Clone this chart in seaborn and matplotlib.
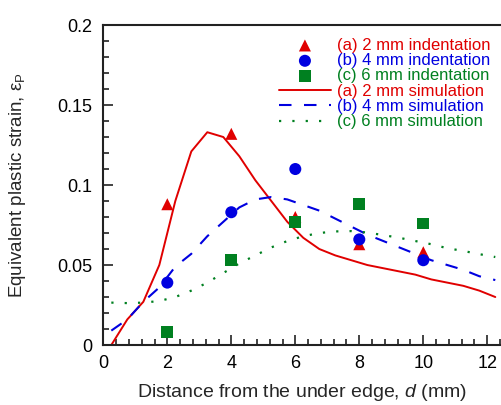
import numpy as np
import pandas as pd
import matplotlib
matplotlib.use("Agg")
import matplotlib.pyplot as plt
import seaborn as sns
from matplotlib.ticker import MultipleLocator

# ---------- data ----------
d_exp = [2, 4, 6, 8, 10]
exp_2mm = [0.088, 0.132, 0.080, 0.063, 0.058]
exp_4mm = [0.039, 0.083, 0.110, 0.066, 0.053]
exp_6mm = [0.008, 0.053, 0.077, 0.088, 0.076]

d_sim = [0.25, 0.75, 1.25, 1.75, 2.25, 2.75, 3.25, 3.75, 4.25, 4.75, 5.25, 5.75,
         6.25, 6.75, 7.25, 7.75, 8.25, 8.75, 9.25, 9.75, 10.25, 10.75, 11.25, 11.75, 12.25]
sim_2mm = [0.000, 0.016, 0.027, 0.050, 0.090, 0.121, 0.133, 0.130, 0.118, 0.103, 0.090, 0.077,
           0.067, 0.060, 0.056, 0.053, 0.050, 0.048, 0.046, 0.044, 0.041, 0.039, 0.037, 0.034, 0.030]
sim_4mm = [0.009, 0.016, 0.027, 0.036, 0.049, 0.057, 0.068, 0.077, 0.086, 0.091, 0.0925, 0.091,
           0.0875, 0.084, 0.079, 0.074, 0.069, 0.065, 0.061, 0.057, 0.053, 0.050, 0.047, 0.043, 0.0406]
sim_6mm = [0.0265, 0.0262, 0.0265, 0.0275, 0.030, 0.034, 0.039, 0.045, 0.051, 0.056, 0.061, 0.065,
           0.068, 0.070, 0.071, 0.0712, 0.0703, 0.0687, 0.067, 0.065, 0.063, 0.0605, 0.0588, 0.0568, 0.055]

red, blue, green = "#e00000", "#0000e0", "#008020"

sns.set_theme(style="ticks")
plt.rcParams["font.family"] = ["Liberation Sans", "DejaVu Sans"]
plt.rcParams["mathtext.fontset"] = "custom"
plt.rcParams["mathtext.it"] = "Liberation Sans:italic"
plt.rcParams["mathtext.rm"] = "Liberation Sans"

fig = plt.figure(figsize=(5.02, 4.05), dpi=100)
ax = fig.add_axes([0.2058, 0.1481, 0.7904, 0.7901])

# measured points
sns.scatterplot(x=d_exp, y=exp_2mm, marker="^", s=75, color=red, edgecolor="none",
                label="(a) 2 mm indentation", ax=ax, zorder=3)
sns.scatterplot(x=d_exp, y=exp_4mm, marker="o", s=75, color=blue, edgecolor="none",
                label="(b) 4 mm indentation", ax=ax, zorder=4)
sns.scatterplot(x=d_exp, y=exp_6mm, marker="s", s=70, color=green, edgecolor="none",
                label="(c) 6 mm indentation", ax=ax, zorder=5)
# simulation curves
sns.lineplot(x=d_sim, y=sim_2mm, color=red, lw=1.4, label="(a) 2 mm simulation", ax=ax)
sns.lineplot(x=d_sim, y=sim_4mm, color=blue, lw=1.5, linestyle=(0, (6, 6)),
             label="(b) 4 mm simulation", ax=ax)
sns.lineplot(x=d_sim, y=sim_6mm, color=green, lw=1.6, linestyle=(0, (1, 5)),
             label="(c) 6 mm simulation", ax=ax)

ax.set_xlim(0, 12.4)
ax.set_ylim(0, 0.2)
ax.xaxis.set_major_locator(MultipleLocator(2))
ax.xaxis.set_minor_locator(MultipleLocator(0.4))
ax.yaxis.set_minor_locator(MultipleLocator(0.01))
ax.set_yticks([0, 0.05, 0.1, 0.15, 0.2])
ax.set_yticklabels(["0", "0.05", "0.1", "0.15", "0.2"])
ax.tick_params(which="both", direction="in", top=False, right=False, colors="#222222",
               labelcolor="black", width=1.2)
ax.tick_params(which="major", length=7, labelsize=13)
ax.tick_params(axis="y", which="major", pad=8)
ax.tick_params(axis="x", which="major", pad=7)
ax.tick_params(which="minor", length=4)
for side in ["left", "bottom", "top"]:
    ax.spines[side].set_linewidth(1.5)
    ax.spines[side].set_color("#222222")
ax.spines["right"].set_visible(False)

ax.set_xlabel("Distance from the under edge, $d$ (mm)", fontsize=14)
ax.set_ylabel("Equivalent plastic strain, ε$_\\mathregular{P}$", fontsize=13.5)
ax.xaxis.set_label_coords(0.5, -0.115)
ax.yaxis.set_label_coords(-0.19, 0.5)

leg = ax.legend(loc="upper left", bbox_to_anchor=(0.443, 0.960), frameon=False,
                fontsize=12, handlelength=3.1, handletextpad=0.35, labelspacing=0.02,
                borderpad=0, borderaxespad=0, scatterpoints=1)
for txt, c in zip(leg.get_texts(), [red, blue, green, red, blue, green]):
    txt.set_color(c)

fig.savefig("out.png", dpi=100)
